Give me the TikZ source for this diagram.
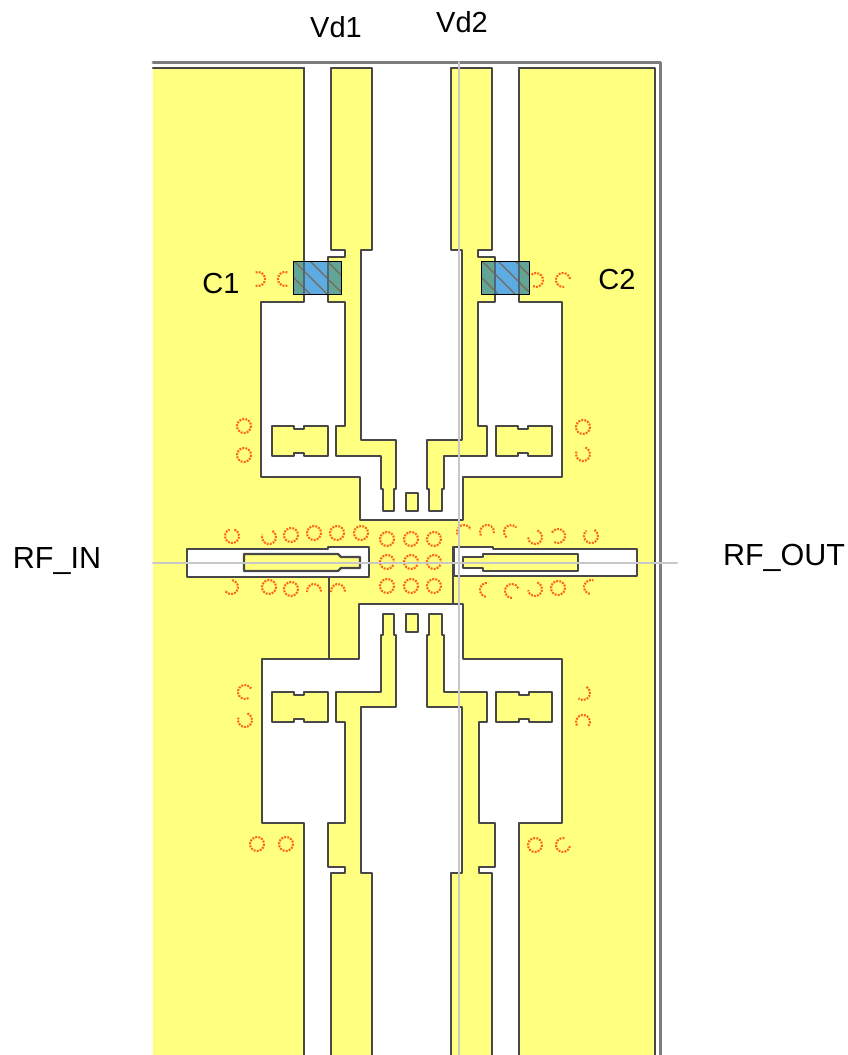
\documentclass[tikz,border=0pt]{standalone}
\usepackage{fontspec}
\setmainfont{Liberation Sans}
\definecolor{pad}{HTML}{FFFF80}
\definecolor{edge}{HTML}{484848}
\definecolor{frame}{HTML}{7C7C7C}
\definecolor{cross}{HTML}{C8C8C8}
\definecolor{viaorange}{HTML}{FF6414}
\definecolor{capblue}{HTML}{5CABE2}
\definecolor{capteal}{HTML}{62A596}
\definecolor{hatch}{HTML}{7A6A55}
\tikzset{
    metal/.style={fill=pad, draw=edge, line width=2.3pt},
    slot/.style={fill=white, draw=edge, line width=2.3pt},
    via/.style={draw=viaorange, line width=2.1pt, line cap=butt, dash pattern=on 1.9pt off 1.2pt},
    label/.style={font=\fontsize{29}{32}\selectfont, inner sep=0pt},
    portlabel/.style={font=\fontsize{30.5}{34}\selectfont, inner sep=0pt}
}
\begin{document}
\begin{tikzpicture}[x=1pt, y=-1pt, line cap=round, line join=round]

	% Fixes the page to the reference size
	\useasboundingbox (0,0) rectangle (847,1055);
	\def\rvia{7}

	% Frame around the layout
	\draw[frame, line width=3pt] (153,62) -- (660,62) -- (660,1060);

	% Ground metal
	\fill[pad] (153,68) rectangle (655,1060);
	\draw[edge, line width=2.3pt] (153,68) -- (304,68);
	\draw[edge, line width=2.3pt] (519,68) -- (655,68) -- (655,1060);

	% Upper opening, left gap to right gap
	\filldraw[slot] (304,68) -- (304,302) -- (261,302) -- (261,477) -- (360,477) -- (360,520)
		-- (463,520) -- (463,477) -- (562,477) -- (562,302) -- (519,302) -- (519,68);

	% Lower opening, left gap to right gap
	\filldraw[slot] (304,1060) -- (304,823) -- (262,823) -- (262,659) -- (359,659) -- (359,604)
		-- (463,604) -- (463,659) -- (562,659) -- (562,823) -- (519,823) -- (519,1060);

	% Seams in the ground metal
	\draw[edge, line width=2.3pt] (329,577) -- (329,659);
	\draw[edge, line width=2.3pt] (453,547) -- (453,604);

	% Upper left bias line
	\draw[metal] (331,68) -- (331,250) -- (345,250) -- (345,257) -- (328,257) -- (328,302) -- (345,302)
		-- (345,426) -- (336,426) -- (336,456) -- (381,456) -- (381,489) -- (383,489) -- (383,511)
		-- (394,511) -- (394,489) -- (396,489) -- (396,440) -- (361,440) -- (361,250) -- (372,250)
		-- (372,68) -- cycle;

	% Upper right bias line
	\draw[metal] (451,68) -- (451,250) -- (462,250) -- (462,440) -- (427,440) -- (427,489) -- (429,489)
		-- (429,511) -- (442,511) -- (442,489) -- (444,489) -- (444,456) -- (487,456) -- (487,426)
		-- (478,426) -- (478,302) -- (495,302) -- (495,257) -- (478,257) -- (478,250) -- (492,250)
		-- (492,68) -- cycle;

	% Lower left bias line
	\draw[metal] (331,1060) -- (331,873) -- (345,873) -- (345,867) -- (328,867) -- (328,823) -- (345,823)
		-- (345,722) -- (336,722) -- (336,692) -- (381,692) -- (381,635) -- (383,635) -- (383,614)
		-- (394,614) -- (394,635) -- (396,635) -- (396,707) -- (361,707) -- (361,873) -- (372,873)
		-- (372,1060);

	% Lower right bias line
	\draw[metal] (451,1060) -- (451,873) -- (462,873) -- (462,707) -- (427,707) -- (427,635) -- (429,635)
		-- (429,614) -- (442,614) -- (442,635) -- (444,635) -- (444,692) -- (487,692) -- (487,722)
		-- (479,722) -- (479,823) -- (495,823) -- (495,867) -- (479,867) -- (479,873) -- (492,873)
		-- (492,1060);

	% Stubs beside the bias lines
	\draw[metal] (272,426) -- (294,426) -- (294,429) -- (304,429) -- (304,426) -- (328,426) -- (328,456)
		-- (304,456) -- (304,453) -- (294,453) -- (294,456) -- (272,456) -- cycle;
	\draw[metal] (496,426) -- (518,426) -- (518,429) -- (528,429) -- (528,426) -- (552,426) -- (552,456)
		-- (528,456) -- (528,453) -- (518,453) -- (518,456) -- (496,456) -- cycle;
	\draw[metal] (272,692) -- (294,692) -- (294,695) -- (304,695) -- (304,692) -- (328,692) -- (328,722)
		-- (304,722) -- (304,719) -- (294,719) -- (294,722) -- (272,722) -- cycle;
	\draw[metal] (496,692) -- (519,692) -- (519,695) -- (529,695) -- (529,692) -- (552,692) -- (552,722)
		-- (529,722) -- (529,719) -- (519,719) -- (519,722) -- (496,722) -- cycle;

	% Small centre pads
	\draw[metal] (406,493) rectangle (418,511);
	\draw[metal] (406,614) rectangle (418,632);

	% Input port
	\filldraw[slot] (187,549) -- (328,549) -- (328,547) -- (369,547) -- (369,577) -- (187,577) -- cycle;
	\draw[metal] (244,554) -- (338,554) -- (341,557) -- (360,557) -- (360,568) -- (341,568) -- (338,571)
		-- (244,571) -- cycle;

	% Output port
	\filldraw[slot] (454,547) -- (493,547) -- (493,549) -- (637,549) -- (637,576) -- (454,576) -- cycle;
	\draw[metal] (463,557) -- (483,557) -- (483,554) -- (578,554) -- (578,571) -- (483,571) -- (483,568)
		-- (463,568) -- cycle;

	% Whole vias
	\foreach \vx/\vy in {244/426, 244/455, 583/427, 291/535, 314/533, 337/533, 361/533,
		387/539, 411/539, 434/539, 387/562, 411/562, 434/562, 387/586, 411/586, 434/586,
		269/587, 291/589, 558/588, 535/845, 257/844, 286/844}
		\draw[via] (\vx,\vy) circle (\rvia);

	% Broken vias, angles run clockwise from the right
	\foreach \vx/\vy/\va/\vb in {258/279/-110/110, 285/279/70/290, 536/280/-130/120, 563/280/80/360,
		232/536/-70/250, 269/537/-60/200, 583/454/-70/200, 231/587/-80/150, 314/591/170/370, 338/591/170/370,
		464/532/160/340, 487/532/150/370, 511/532/130/320, 535/537/-70/180, 558/536/-150/130, 591/536/-60/230,
		487/590/100/280, 512/591/90/340, 535/589/-70/170, 591/587/100/290,
		245/692/60/330, 245/720/-70/200, 583/693/-60/130, 583/722/150/400, 563/845/10/290}
		\draw[via] (\vx,\vy) ++(\va:\rvia) arc[start angle=\va, end angle=\vb, radius=\rvia];

	% Capacitor C1
	\fill[capblue] (293,261) rectangle (341,294);
	\fill[capteal] (293,261) rectangle (304,294);
	\fill[capteal] (328,261) rectangle (341,294);
	\begin{scope}
		\clip (293,261) rectangle (341,294);
		\foreach \hx in {277,294,310,327}
			\draw[hatch, line width=1.3pt] (\hx,261) -- (\hx+33,294);
	\end{scope}
	\draw[edge!70!capblue, line width=1.6pt] (304,261) -- (304,294);
	\draw[edge!70!capblue, line width=1.6pt] (328,261) -- (328,294);
	\draw[black, line width=0.8pt] (293,261) rectangle (341,294);

	% Capacitor C2
	\fill[capblue] (481,261) rectangle (529,294);
	\fill[capteal] (481,261) rectangle (495,294);
	\fill[capteal] (519,261) rectangle (529,294);
	\begin{scope}
		\clip (481,261) rectangle (529,294);
		\foreach \hx in {465,482,498,515}
			\draw[hatch, line width=1.3pt] (\hx,261) -- (\hx+33,294);
	\end{scope}
	\draw[edge!70!capblue, line width=1.6pt] (495,261) -- (495,294);
	\draw[edge!70!capblue, line width=1.6pt] (519,261) -- (519,294);
	\draw[black, line width=0.8pt] (481,261) rectangle (529,294);

	% Reference cross
	\draw[cross, line width=2pt] (153,563) -- (677,563);
	\draw[cross, line width=2pt] (459,62) -- (459,1060);

	% Labels
	\node[label] (vdone) at (336,27) {Vd1};
	\node[label] (vdtwo) at (462,22) {Vd2};
	\node[label] (cone) at (221,284) {C1};
	\node[label] (ctwo) at (617,280) {C2};
	\node[portlabel] (rfin) at (57,561) {RF\_IN};
	\node[portlabel] (rfout) at (784,558) {RF\_OUT};

\end{tikzpicture}
\end{document}
